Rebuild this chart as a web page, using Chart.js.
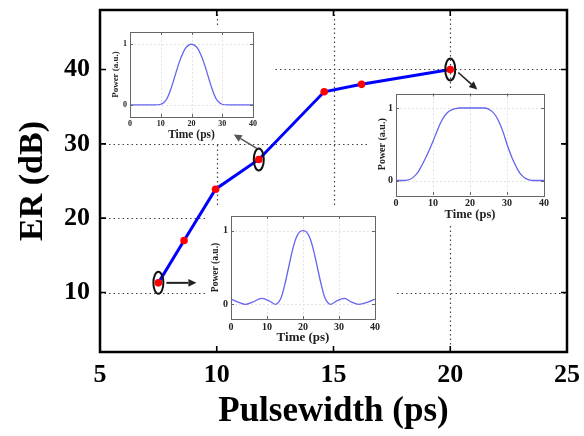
<!DOCTYPE html>
<html><head><meta charset="utf-8">
<script src="https://cdn.jsdelivr.net/npm/chart.js@4.4.1/dist/chart.umd.min.js"></script>
<style>
html,body{margin:0;padding:0;background:#fff;}
#wrap{position:relative;width:584px;height:436px;overflow:hidden;background:#fff;}
.layer{position:absolute;}
canvas{display:block;}
</style></head><body>
<div id="wrap">
  <div class="layer" style="left:0;top:0"><canvas id="gridC" width="584" height="436"></canvas></div>
  <div class="layer" style="left:103px;top:26px"><canvas id="in1" width="170" height="116"></canvas></div>
  <div class="layer" style="left:370px;top:89px"><canvas id="in2" width="192" height="136"></canvas></div>
  <div class="layer" style="left:205px;top:206px"><canvas id="in3" width="190" height="143"></canvas></div>
  <div class="layer" style="left:0;top:0"><canvas id="mainC" width="584" height="436"></canvas></div>
</div>
<script>
// ---------------- data ----------------
const pulsewidth = [7.5, 8.6, 9.95, 11.8, 14.6, 16.2, 20.0];
const erDB       = [11.3, 17.0, 23.9, 27.9, 37.0, 38.0, 40.0];
const xTicks = [5, 10, 15, 20, 25];
const yTicks = [10, 20, 30, 40];
const xGrid  = [10, 15, 20];
const markedIdx = [0, 3, 6];

const insetXTicks = [0, 10, 20, 30, 40];
const insetYTicks = [0, 1];
const insetGridX = [10, 20, 30];

const time1  = [0, 4, 8, 10, 11, 12, 13, 14, 15, 16, 17, 18, 19, 20, 21, 22, 23, 24, 25, 26, 27, 28, 29, 30, 32, 36, 40];
const power1 = [0, 0, 0, 0.01, 0.04, 0.1, 0.22, 0.37, 0.54, 0.7, 0.83, 0.93, 0.98, 1, 0.98, 0.93, 0.83, 0.7, 0.54, 0.37, 0.22, 0.1, 0.04, 0.01, 0, 0, 0];

const time2  = [0, 2, 3, 4, 5, 6, 7, 8, 9, 10, 11, 12, 13, 14, 15, 16, 17, 20, 24, 25, 26, 27, 28, 29, 30, 31, 32, 33, 34, 35, 36, 37, 40];
const power2 = [0, 0, 0.005, 0.02, 0.06, 0.12, 0.21, 0.31, 0.42, 0.54, 0.67, 0.79, 0.88, 0.94, 0.975, 0.99, 1, 1, 1, 0.985, 0.95, 0.89, 0.79, 0.66, 0.5, 0.36, 0.24, 0.14, 0.07, 0.03, 0.01, 0, 0];

const time3  = [0, 2, 4, 6, 8.5, 10.5, 12.3, 14, 15, 16, 17, 18, 19, 20, 21, 22, 23, 24, 25, 26, 27.7, 29.5, 31.5, 33.5, 35.5, 38, 40];
const power3 = [0.07, 0.03, 0, 0.03, 0.08, 0.05, 0, 0.1, 0.28, 0.5, 0.72, 0.89, 0.98, 1, 0.98, 0.89, 0.72, 0.5, 0.28, 0.1, 0, 0.05, 0.08, 0.03, 0, 0.03, 0.07];

// ---------------- styles ----------------
const SERIF = "'Liberation Serif','Times New Roman',serif";
const ELL_RX = 5, ELL_RY = 11;
const arrowFrom = [[8, 0], [-2, -11], [8, 3]];
const arrowTo   = [[38, 0], [-25, -25], [27, 20]];

function drawArrow(ctx, x0, y0, x1, y1, w, color) {
  const ang = Math.atan2(y1 - y0, x1 - x0);
  const hl = 8, hw = 3.8;
  ctx.strokeStyle = color; ctx.fillStyle = color; ctx.lineWidth = w;
  ctx.beginPath();
  ctx.moveTo(x0, y0);
  ctx.lineTo(x1 - hl * Math.cos(ang), y1 - hl * Math.sin(ang));
  ctx.stroke();
  ctx.beginPath();
  ctx.moveTo(x1, y1);
  ctx.lineTo(x1 - hl * Math.cos(ang) + hw * Math.sin(ang), y1 - hl * Math.sin(ang) - hw * Math.cos(ang));
  ctx.lineTo(x1 - hl * Math.cos(ang) - hw * Math.sin(ang), y1 - hl * Math.sin(ang) + hw * Math.cos(ang));
  ctx.closePath();
  ctx.fill();
}

const gridPlugin = {
  id: 'dotgrid',
  beforeDatasetsDraw(chart) {
    const {ctx, chartArea: a, scales: {x, y}} = chart;
    ctx.save();
    ctx.strokeStyle = '#444'; ctx.lineWidth = 1.2; ctx.setLineDash([1.5, 3]);
    ctx.beginPath();
    xGrid.forEach(v => { const px = Math.round(x.getPixelForValue(v)) + 0.5; ctx.moveTo(px, a.top); ctx.lineTo(px, a.bottom); });
    yTicks.forEach(v => { const py = Math.round(y.getPixelForValue(v)) + 0.5; ctx.moveTo(a.left, py); ctx.lineTo(a.right, py); });
    ctx.stroke();
    ctx.restore();
  }
};

const framePlugin = {
  id: 'frame',
  beforeDatasetsDraw(chart) {
    const {ctx, chartArea: a, scales: {x, y}} = chart;
    ctx.save();
    ctx.strokeStyle = '#000'; ctx.lineWidth = 2.5;
    ctx.strokeRect(a.left, a.top, a.right - a.left, a.bottom - a.top);
    ctx.lineWidth = 1.6;
    ctx.beginPath();
    xGrid.forEach(v => { const px = x.getPixelForValue(v);
      ctx.moveTo(px, a.bottom); ctx.lineTo(px, a.bottom - 6);
      ctx.moveTo(px, a.top); ctx.lineTo(px, a.top + 6); });
    yTicks.forEach(v => { const py = y.getPixelForValue(v);
      ctx.moveTo(a.left, py); ctx.lineTo(a.left + 6, py);
      ctx.moveTo(a.right, py); ctx.lineTo(a.right - 6, py); });
    ctx.stroke();
    ctx.restore();
  }
};

const annotPlugin = {
  id: 'annot',
  afterDatasetsDraw(chart) {
    const {ctx, scales: {x, y}} = chart;
    ctx.save();
    markedIdx.forEach((idx, k) => {
      const px = x.getPixelForValue(pulsewidth[idx]);
      const py = y.getPixelForValue(erDB[idx]);
      ctx.strokeStyle = '#111'; ctx.lineWidth = 2;
      ctx.beginPath(); ctx.ellipse(px, py, ELL_RX, ELL_RY, 0, 0, Math.PI * 2); ctx.stroke();
      drawArrow(ctx, px + arrowFrom[k][0], py + arrowFrom[k][1], px + arrowTo[k][0], py + arrowTo[k][1],
        k === 0 ? 2 : 1.6, k === 1 ? '#555' : '#222');
    });
    ctx.restore();
  }
};

function mainConfig(isTop) {
  return {
    type: 'line',
    data: { datasets: [{
      data: pulsewidth.map((v, i) => ({x: v, y: erDB[i]})),
      borderColor: isTop ? '#0000ff' : 'rgba(0,0,0,0)', borderWidth: 3,
      pointRadius: isTop ? 3.8 : 0, pointBackgroundColor: '#ff0000', pointBorderColor: '#ff0000', pointBorderWidth: 0,
      tension: 0, fill: false }] },
    options: {
      responsive: false, animation: false, devicePixelRatio: 1, events: [],
      layout: { padding: {left: 0, right: 17, top: 10, bottom: 0} },
      plugins: { legend: {display: false}, tooltip: {enabled: false} },
      scales: {
        x: { type: 'linear', min: 5, max: 25,
          afterBuildTicks: s => { s.ticks = xTicks.map(v => ({value: v})); },
          afterFit: s => { s.height = 84; s.paddingLeft = 0; s.paddingRight = 0; },
          grid: {display: false, drawTicks: false}, border: {display: false},
          ticks: {display: isTop, font: {family: SERIF, size: 26, weight: 'bold'}, color: '#000', padding: 8, maxRotation: 0, autoSkip: false},
          title: {display: isTop, text: 'Pulsewidth (ps)', font: {family: SERIF, size: 35, weight: 'bold'}, color: '#000', padding: {top: 0, bottom: 3}} },
        y: { type: 'linear', min: 2, max: 48,
          afterBuildTicks: s => { s.ticks = yTicks.map(v => ({value: v})); },
          afterFit: s => { s.width = 100; s.paddingTop = 0; s.paddingBottom = 0; },
          grid: {display: false, drawTicks: false}, border: {display: false},
          ticks: {display: isTop, font: {family: SERIF, size: 26, weight: 'bold'}, color: '#000', padding: 10},
          title: {display: isTop, text: 'ER (dB)', font: {family: SERIF, size: 34, weight: 'bold'}, color: '#000', padding: {top: 13, bottom: 0}} }
      }
    },
    plugins: isTop ? [framePlugin, annotPlugin] : [gridPlugin]
  };
}

const whiteBg = {
  id: 'whiteBg',
  beforeDraw(chart) { const c = chart.ctx; c.save(); c.fillStyle = '#fff'; c.fillRect(0, 0, chart.width, chart.height); c.restore(); }
};

const insetFrame = {
  id: 'insetFrame',
  beforeDatasetsDraw(chart) {
    const {ctx, chartArea: a, scales: {x, y}} = chart;
    ctx.save();
    ctx.strokeStyle = '#e4e4e4'; ctx.lineWidth = 1; ctx.setLineDash([2, 2]);
    ctx.beginPath();
    insetGridX.forEach(v => { const px = Math.round(x.getPixelForValue(v)) + 0.5; ctx.moveTo(px, a.top); ctx.lineTo(px, a.bottom); });
    insetYTicks.forEach(v => { const py = Math.round(y.getPixelForValue(v)) + 0.5; ctx.moveTo(a.left, py); ctx.lineTo(a.right, py); });
    ctx.stroke();
    ctx.restore();
  },
  afterDatasetsDraw(chart) {
    const {ctx, chartArea: a, scales: {x, y}} = chart;
    ctx.save();
    ctx.strokeStyle = '#666'; ctx.lineWidth = 1;
    ctx.strokeRect(Math.round(a.left) + 0.5, Math.round(a.top) + 0.5, Math.round(a.right - a.left), Math.round(a.bottom - a.top));
    ctx.beginPath();
    insetGridX.forEach(v => { const px = Math.round(x.getPixelForValue(v)) + 0.5;
      ctx.moveTo(px, a.bottom); ctx.lineTo(px, a.bottom - 3); ctx.moveTo(px, a.top); ctx.lineTo(px, a.top + 3); });
    insetYTicks.forEach(v => { const py = Math.round(y.getPixelForValue(v)) + 0.5;
      ctx.moveTo(a.left, py); ctx.lineTo(a.left + 3, py); ctx.moveTo(a.right, py); ctx.lineTo(a.right - 3, py); });
    ctx.stroke();
    ctx.restore();
  }
};

function insetConfig(t, p, L) {
  return {
    type: 'line',
    data: { datasets: [{ data: t.map((v, i) => ({x: v, y: p[i]})), borderColor: '#6464f0', borderWidth: 1.3,
      pointRadius: 0, cubicInterpolationMode: 'monotone', fill: false }] },
    options: {
      responsive: false, animation: false, devicePixelRatio: 1, events: [],
      layout: { padding: {left: 0, right: L.padR, top: L.padT, bottom: 0} },
      plugins: { legend: {display: false}, tooltip: {enabled: false} },
      scales: {
        x: { type: 'linear', min: 0, max: 40,
          afterBuildTicks: s => { s.ticks = insetXTicks.map(v => ({value: v})); },
          afterFit: s => { s.height = L.xH; s.paddingLeft = 0; s.paddingRight = 0; },
          grid: {display: false, drawTicks: false}, border: {display: false},
          ticks: {font: {family: SERIF, size: L.tick, weight: 'bold'}, color: '#222', padding: L.xTickPad, maxRotation: 0, autoSkip: false},
          title: {display: true, text: 'Time (ps)', font: {family: SERIF, size: L.xTitle, weight: 'bold'}, color: '#222', padding: {top: 0, bottom: L.xTitlePad}} },
        y: { type: 'linear', min: -0.2, max: 1.2,
          afterBuildTicks: s => { s.ticks = insetYTicks.map(v => ({value: v})); },
          afterFit: s => { s.width = L.yW; s.paddingTop = 0; s.paddingBottom = 0; },
          grid: {display: false, drawTicks: false}, border: {display: false},
          ticks: {font: {family: SERIF, size: L.tick, weight: 'bold'}, color: '#222', padding: L.yTickPad},
          title: {display: true, text: 'Power (a.u.)', font: {family: SERIF, size: L.yTitle, weight: 'bold'}, color: '#222', padding: {top: L.yTitlePad, bottom: 0}} }
      }
    },
    plugins: [whiteBg, insetFrame]
  };
}

new Chart(document.getElementById('gridC'), mainConfig(false));
new Chart(document.getElementById('in1'), insetConfig(time1, power1,
  {padR: 20, padT: 6, xH: 25, yW: 27, tick: 8, xTitle: 11.5, yTitle: 9, xTickPad: 2, xTitlePad: 0, yTickPad: 3, yTitlePad: 7}));
new Chart(document.getElementById('in2'), insetConfig(time2, power2,
  {padR: 18, padT: 4.5, xH: 30, yW: 26, tick: 10, xTitle: 12.5, yTitle: 10, xTickPad: 2, xTitlePad: 2.5, yTickPad: 3, yTitlePad: 6}));
new Chart(document.getElementById('in3'), insetConfig(time3, power3,
  {padR: 20, padT: 10, xH: 30, yW: 26, tick: 10, xTitle: 13, yTitle: 9.5, xTickPad: 2, xTitlePad: 4, yTickPad: 3, yTitlePad: 5}));
new Chart(document.getElementById('mainC'), mainConfig(true));
</script>
</body></html>
